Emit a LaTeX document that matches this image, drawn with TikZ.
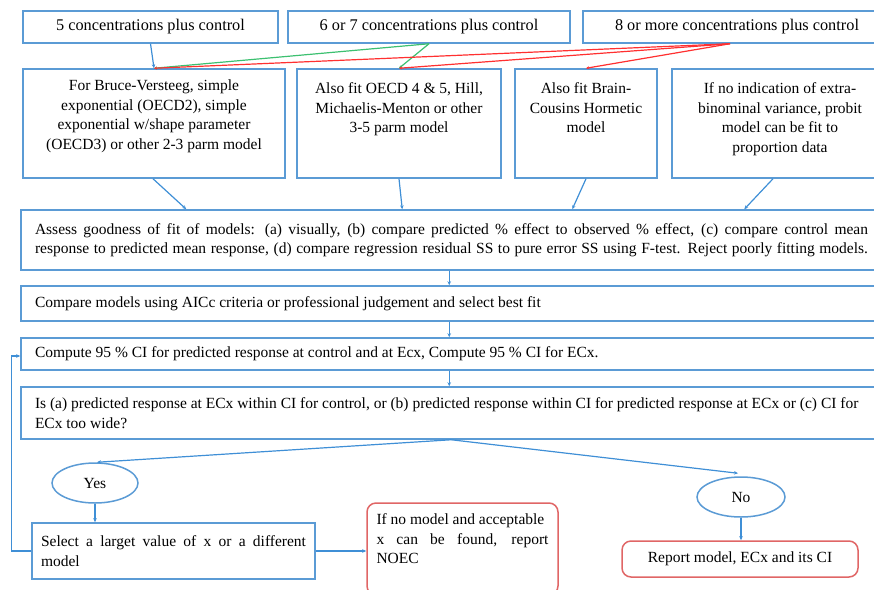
\documentclass[tikz,border=0pt]{standalone}
\usepackage{fontspec}
\setmainfont{Liberation Serif}
\usetikzlibrary{shapes.geometric,arrows.meta,calc}
\definecolor{bxblue}{HTML}{5B9BD5}
\definecolor{lnblue}{HTML}{3F8FD6}
\definecolor{bxred}{HTML}{E06666}
\definecolor{lnred}{HTML}{FF3030}
\definecolor{lngreen}{HTML}{3CC070}
\newcommand\jl[2]{\makebox[#1][s]{#2}}
\newcommand\tb[4]{\parbox[c][#1][t]{#2}{\centering\vspace*{#3}#4}}
\begin{document}
\begin{tikzpicture}[x=1pt,y=-1pt,
  font=\fontsize{15.5}{19.5}\selectfont,
  bx/.style={draw=bxblue,line width=1.5pt,inner sep=0pt,rectangle},
  topbx/.style={bx,minimum height=32pt,font=\fontsize{16.3}{19.5}\selectfont},
  rbx/.style={draw=bxred,line width=1.5pt,inner sep=0pt,rectangle,rounded corners=9pt},
  ell/.style={draw=bxblue,line width=1.5pt,ellipse,inner sep=0pt},
  arr/.style={draw=lnblue,line width=1.2pt,-{Stealth[length=4pt,width=3.5pt]}},
  garr/.style={draw=lngreen,line width=1.2pt,-{Stealth[length=3pt,width=3pt]}},
  rarr/.style={draw=lnred,line width=1.2pt,-{Stealth[length=3pt,width=3pt]}},
]
\useasboundingbox (0,0) rectangle (874,589);
\clip (0,0) rectangle (874,589);

% top row
\node[topbx,minimum width=255pt] (a) at (150.5,27) {5 concentrations plus control};
\node[topbx,minimum width=282pt] (b) at (429,27) {6 or 7 concentrations plus control};
\node[topbx,minimum width=308pt] (c) at (737,27) {8 or more concentrations plus control};

% second row
\node[bx,minimum width=262pt,minimum height=109pt] (d) at (154,123.5)
  {\tb{109pt}{262pt}{11pt}{For Bruce-Versteeg, simple\\exponential (OECD2), simple\\exponential w/shape parameter\\(OECD3) or other 2-3 parm model}};
\node[bx,minimum width=204pt,minimum height=109pt] (e) at (399,123.5)
  {\tb{109pt}{204pt}{14pt}{Also fit OECD 4 \& 5, Hill,\\Michaelis-Menton or other\\3-5 parm model}};
\node[bx,minimum width=142pt,minimum height=109pt] (f) at (586,123.5)
  {\tb{109pt}{142pt}{14pt}{Also fit Brain-\\Cousins Hormetic\\model}};
\node[bx,minimum width=216pt,minimum height=109pt] (g) at (780,123.5)
  {\tb{109pt}{216pt}{14pt}{If no indication of extra-\\binominal variance, probit\\model can be fit to\\proportion data}};

% wide boxes
\node[bx,minimum width=861pt,minimum height=60pt] (as) at (451.5,240)
  {\parbox{833pt}{\jl{833pt}{Assess goodness of fit of models: (a) visually, (b) compare predicted \% effect to observed \% effect, (c) compare control mean}\\
   \jl{833pt}{response to predicted mean response, (d) compare regression residual SS to pure error SS using F-test. Reject poorly fitting models.}}};
\node[bx,minimum width=861pt,minimum height=35pt] (cm) at (451.5,303.5)
  {\parbox{833pt}{Compare models using AICc criteria or professional judgement and select best fit}};
\node[bx,minimum width=861pt,minimum height=32pt] (cp) at (451.5,354)
  {\parbox{833pt}{Compute 95 \% CI for predicted response at control and at Ecx, Compute 95 \% CI for ECx.}};
\node[bx,minimum width=861pt,minimum height=52pt] (is) at (451.5,413)
  {\parbox{833pt}{\mbox{Is (a) predicted response at ECx within CI for control, or (b) predicted response within CI for predicted response at ECx or (c) CI for}\\ECx too wide?}};

% decisions
\node[ell,minimum width=86pt,minimum height=40pt] (yes) at (95,483) {Yes};
\node[ell,minimum width=88pt,minimum height=40pt] (no) at (741,497) {No};

% bottom
\node[bx,minimum width=283pt,minimum height=56pt] (sel) at (173.5,551)
  {\parbox{265pt}{\jl{265pt}{Select a larget value of x or a different}\\model}};
\node[rbx,minimum width=191pt,minimum height=92pt] (nc) at (462.5,549)
  {\parbox[c][92pt][t]{172pt}{\vspace*{11pt}\mbox{If no model and acceptable}\\\jl{172pt}{x can be found, report}\\NOEC}};
\node[rbx,minimum width=236pt,minimum height=36pt] (rep) at (740,559) {Report model, ECx and its CI};

% connectors top
\coordinate (cs) at ([xshift=-7pt]c.south);
\draw[garr] (b.south) -- (d.north);
\draw[garr] (b.south) -- (e.north);
\draw[rarr] (cs) -- (d.north);
\draw[rarr] (cs) -- (e.north);
\draw[rarr] (cs) -- (f.north);
\draw[arr] (a.south) -- (d.north);

% into assess
\draw[arr] ([xshift=-1pt]d.south) -- ([xshift=166pt]as.north west);
\draw[arr] (e.south) -- ([xshift=382pt]as.north west);
\draw[arr] (f.south) -- ([xshift=552pt]as.north west);
\draw[arr] ([xshift=-7pt]g.south) -- ([xshift=724pt]as.north west);

% vertical chain
\draw[arr] ([xshift=429pt]as.south west) -- ([xshift=429pt]cm.north west);
\draw[arr] ([xshift=429pt]cm.south west) -- ([xshift=429pt]cp.north west);
\draw[arr] ([xshift=429pt]cp.south west) -- ([xshift=429pt]is.north west);

% split
\coordinate (sp) at ([xshift=431pt]is.south west);
\draw[arr] (sp) -- ([xshift=2pt]yes.north);
\draw[arr] (sp) -- ([xshift=-3pt,yshift=3pt]no.north);
\draw[arr] (yes.south) -- (yes.south |- sel.north);
\draw[arr] (no.south) -- (no.south |- rep.north);
\draw[arr] (sel.east) -- (sel.east -| nc.west);
\draw[arr] (sel.west) -- ++(-20,0) |- ([yshift=-2pt]cp.west);
\end{tikzpicture}
\end{document}
